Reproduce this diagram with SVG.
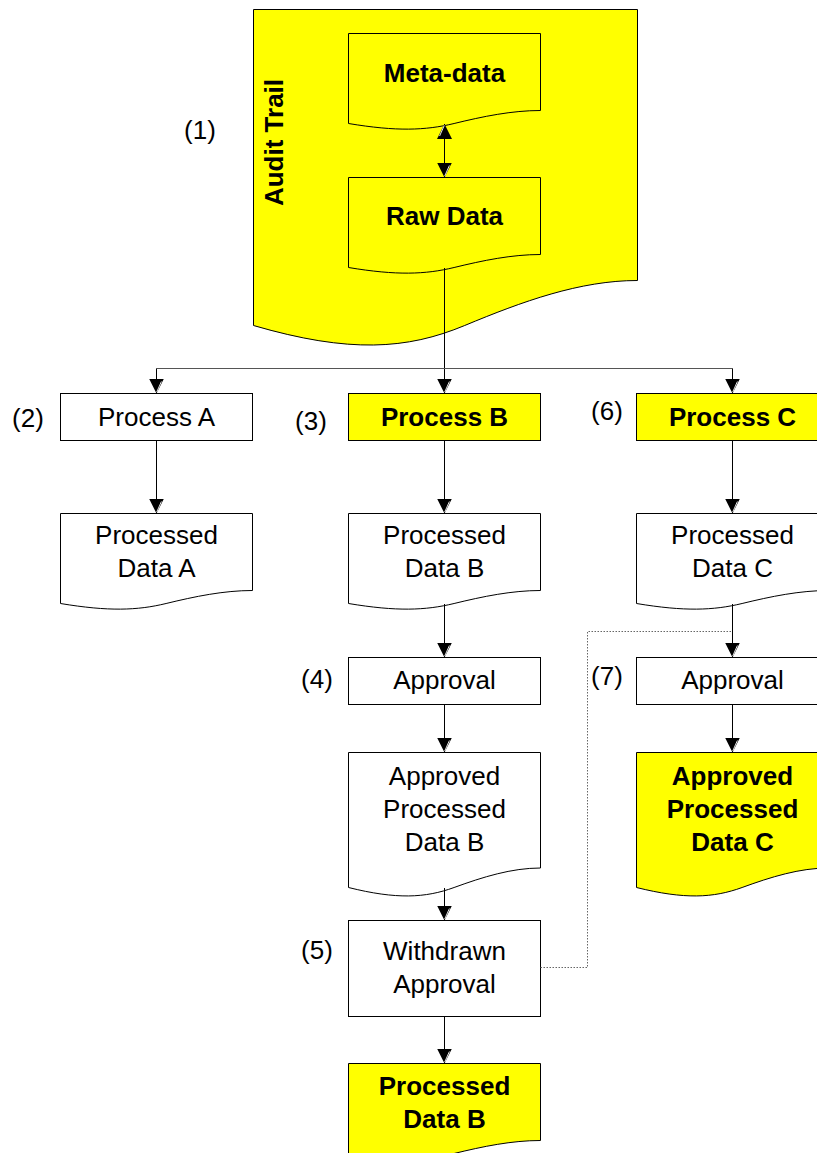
<svg xmlns="http://www.w3.org/2000/svg" width="817" height="1153" viewBox="0 0 817 1153">
<style>
.shp{stroke:#000;stroke-width:1}
.w{fill:#fff}
.y{fill:#ffff00}
.t{font-family:"Liberation Sans",Arial,sans-serif;font-size:26px;fill:#000;text-anchor:middle}
.b{font-weight:bold}
.c{fill:none;stroke:#000;stroke-width:1}
.h{fill:none;stroke:#555;stroke-width:1}
.d{fill:none;stroke:#666;stroke-width:1;stroke-dasharray:1.5,1.5}
</style>
<defs>
<marker id="ah" markerUnits="userSpaceOnUse" markerWidth="16" markerHeight="16" refX="15" refY="7.5" orient="auto-start-reverse" viewBox="0 0 16 16">
<path d="M0,0 L15,7.5 L0,15 Z" fill="#000"/>
<path d="M3,2.6 L13.6,7.3" stroke="#fff" stroke-width="0.9"/>
</marker>
</defs>
<rect width="817" height="1153" fill="#fff"/>
<g id="audit-trail">
<path class="shp y" d="M253.5,9.5 H637.5 V280.5 C579.9,280.5 522.3,301.5 464.7,325.5 C407.1,349.5 349.5,353.5 253.5,325.5 Z"/>
<text class="t b" transform="translate(283,142.5) rotate(-90)" x="0" y="0">Audit Trail</text>
</g>
<g id="label-1"><text class="t" x="200" y="139">(1)</text></g>
<g id="meta-data">
<path class="shp y" d="M348.5,33.5 H540.5 V110.5 C511.7,110.5 482.9,116.5 454.1,123.5 C425.3,130.5 396.5,131.5 348.5,123.5 Z"/>
<text class="t b" x="444.5" y="82">Meta-data</text>
</g>
<g id="raw-data">
<path class="shp y" d="M348.5,177.5 H540.5 V254.5 C511.7,254.5 482.9,260.5 454.1,267.5 C425.3,274.5 396.5,275.5 348.5,267.5 Z"/>
<text class="t b" x="444.5" y="225">Raw Data</text>
</g>
<g id="process-a">
<rect class="shp w" x="60.5" y="393.5" width="192" height="47"/>
<text class="t" x="156.5" y="426">Process A</text>
<text class="t" x="28" y="427">(2)</text>
</g>
<g id="process-b">
<rect class="shp y" x="348.5" y="393.5" width="192" height="47"/>
<text class="t b" x="444.5" y="426">Process B</text>
<text class="t" x="311" y="430">(3)</text>
</g>
<g id="process-c">
<rect class="shp y" x="636.5" y="393.5" width="192" height="47"/>
<text class="t b" x="732.5" y="426">Process C</text>
<text class="t" x="607" y="420">(6)</text>
</g>
<g id="processed-data-a">
<path class="shp w" d="M60.5,513.5 H252.5 V590.5 C223.7,590.5 194.9,596.5 166.1,603.5 C137.3,610.5 108.5,611.5 60.5,603.5 Z"/>
<text class="t" x="156.5" y="544">Processed</text>
<text class="t" x="156.5" y="577">Data A</text>
</g>
<g id="processed-data-b">
<path class="shp w" d="M348.5,513.5 H540.5 V590.5 C511.7,590.5 482.9,596.5 454.1,603.5 C425.3,610.5 396.5,611.5 348.5,603.5 Z"/>
<text class="t" x="444.5" y="544">Processed</text>
<text class="t" x="444.5" y="577">Data B</text>
</g>
<g id="processed-data-c">
<path class="shp w" d="M636.5,513.5 H828.5 V590.5 C799.7,590.5 770.9,596.5 742.1,603.5 C713.3,610.5 684.5,611.5 636.5,603.5 Z"/>
<text class="t" x="732.5" y="544">Processed</text>
<text class="t" x="732.5" y="577">Data C</text>
</g>
<g id="approval-b">
<rect class="shp w" x="348.5" y="657.5" width="192" height="47"/>
<text class="t" x="444.5" y="689">Approval</text>
<text class="t" x="317" y="688">(4)</text>
</g>
<g id="approval-c">
<rect class="shp w" x="636.5" y="657.5" width="192" height="47"/>
<text class="t" x="732.5" y="689">Approval</text>
<text class="t" x="607" y="685">(7)</text>
</g>
<g id="approved-processed-data-b">
<path class="shp w" d="M348.5,752.5 H540.5 V868 C511.7,868 482.9,877 454.1,887.5 C425.3,898 396.5,899.5 348.5,887.5 Z"/>
<text class="t" x="444.5" y="785">Approved</text>
<text class="t" x="444.5" y="818">Processed</text>
<text class="t" x="444.5" y="851">Data B</text>
</g>
<g id="approved-processed-data-c">
<path class="shp y" d="M636.5,752.5 H828.5 V868 C799.7,868 770.9,877 742.1,887.5 C713.3,898 684.5,899.5 636.5,887.5 Z"/>
<text class="t b" x="732.5" y="785">Approved</text>
<text class="t b" x="732.5" y="818">Processed</text>
<text class="t b" x="732.5" y="851">Data C</text>
</g>
<g id="withdrawn-approval">
<rect class="shp w" x="348.5" y="920.5" width="192" height="96"/>
<text class="t" x="444.5" y="960">Withdrawn</text>
<text class="t" x="444.5" y="993">Approval</text>
<text class="t" x="317" y="959">(5)</text>
</g>
<g id="processed-data-b-final">
<path class="shp y" d="M348.5,1063.5 H540.5 V1140.5 C511.7,1140.5 482.9,1146.5 454.1,1153.5 C425.3,1160.5 396.5,1161.5 348.5,1153.5 Z"/>
<text class="t b" x="444.5" y="1095">Processed</text>
<text class="t b" x="444.5" y="1128">Data B</text>
</g>
<g id="connectors">
<path class="c" d="M444.5,124 V177.5" marker-start="url(#ah)" marker-end="url(#ah)"/>
<path class="c" d="M444.5,268 V393.5" marker-end="url(#ah)"/>
<path class="h" d="M156.5,368.5 H732.5"/>
<path class="c" d="M156.5,368.5 V393.5" marker-end="url(#ah)"/>
<path class="c" d="M732.5,368.5 V393.5" marker-end="url(#ah)"/>
<path class="c" d="M156.5,440.5 V513.5" marker-end="url(#ah)"/>
<path class="c" d="M444.5,440.5 V513.5" marker-end="url(#ah)"/>
<path class="c" d="M732.5,440.5 V513.5" marker-end="url(#ah)"/>
<path class="c" d="M444.5,604 V657.5" marker-end="url(#ah)"/>
<path class="c" d="M444.5,704.5 V752.5" marker-end="url(#ah)"/>
<path class="c" d="M444.5,888 V920.5" marker-end="url(#ah)"/>
<path class="c" d="M444.5,1016.5 V1063.5" marker-end="url(#ah)"/>
<path class="c" d="M732.5,604 V657.5" marker-end="url(#ah)"/>
<path class="c" d="M732.5,704.5 V752.5" marker-end="url(#ah)"/>
<path class="d" d="M540.5,967.5 H587.5 V631.5 H732.5"/>
</g>
</svg>
